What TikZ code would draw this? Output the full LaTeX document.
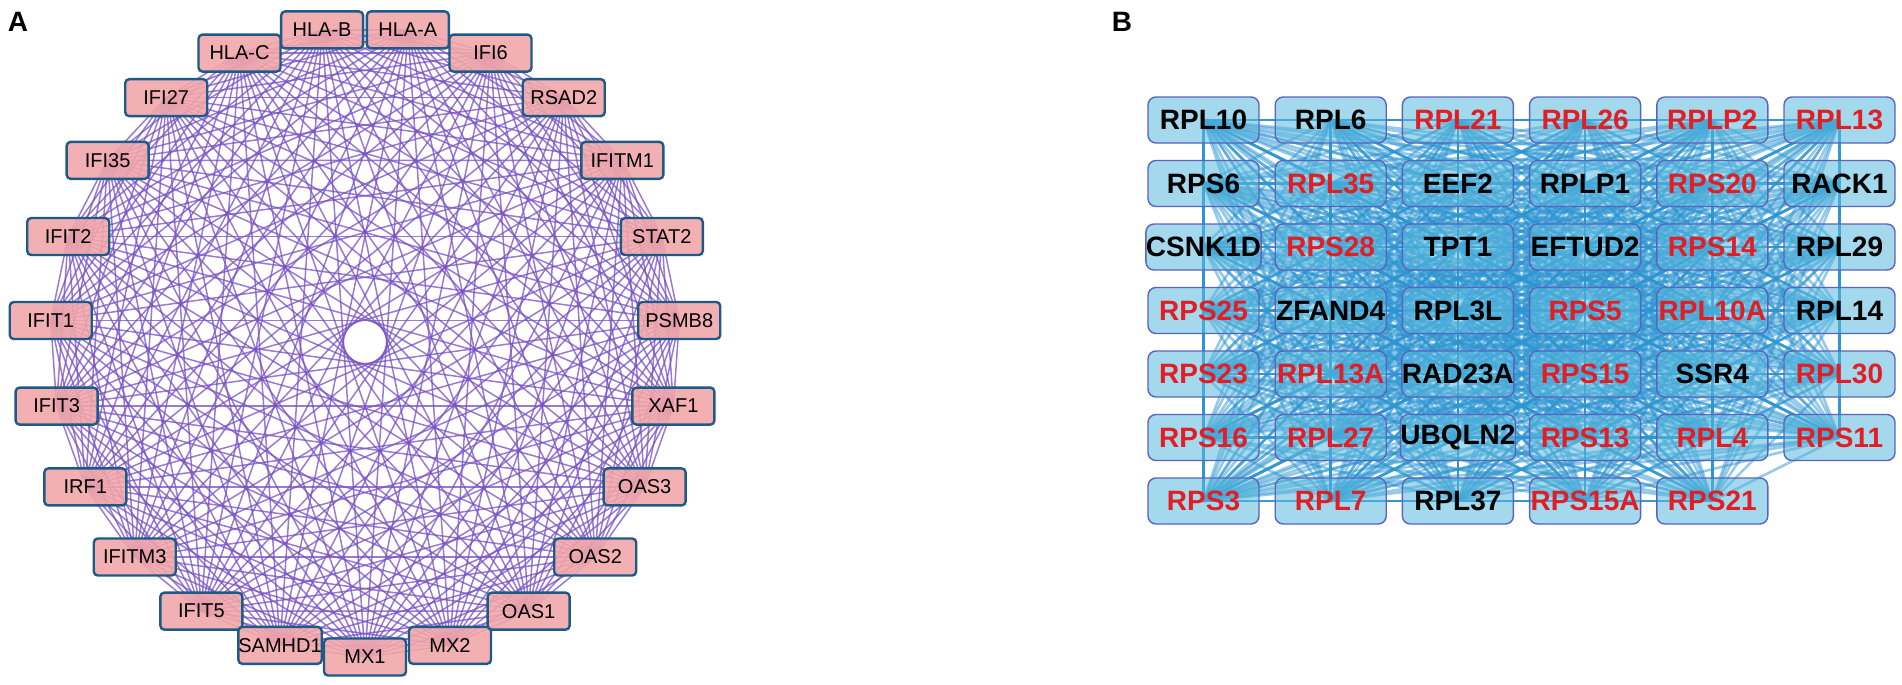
\documentclass[tikz,border=0pt]{standalone}
\usepackage{fontspec}
\setmainfont{Liberation Sans}
\pgfdeclarelayer{bg}
\pgfsetlayers{bg,main}
\definecolor{apink}{RGB}{242,166,168}
\definecolor{aborder}{RGB}{30,90,135}
\definecolor{aedgec}{RGB}{120,80,195}
\definecolor{bfill}{RGB}{90,185,222}
\definecolor{bborder}{RGB}{90,100,190}
\definecolor{bedgec}{RGB}{45,150,210}
\definecolor{bred}{RGB}{225,30,35}
\tikzset{
  anode/.style={draw=aborder, line width=1.2pt, fill=apink, fill opacity=0.88, text opacity=1,
    rounded corners=2pt, minimum width=41pt, minimum height=18.5pt, inner sep=0pt,
    font=\fontsize{10}{12}\selectfont},
  bnode/.style={draw=bborder, line width=0.7pt, fill=bfill, fill opacity=0.55, text opacity=1,
    rounded corners=4pt, minimum width=55.5pt, minimum height=23pt, inner sep=0pt,
    font=\bfseries\fontsize{14}{16}\selectfont},
  aedge/.style={draw=aedgec, line width=0.75pt, opacity=0.75},
  bedge/.style={draw=bedgec, line width=1.3pt, opacity=0.5},
  panellabel/.style={font=\bfseries\fontsize{14}{16}\selectfont, inner sep=0pt}
}
\begin{document}
\begin{tikzpicture}[x=0.5pt,y=-0.5pt]
\useasboundingbox (0,0) rectangle (1902,685);
\begin{pgfonlayer}{bg}
\fill[white] (0,0) rectangle (1902,685);
\end{pgfonlayer}
% Panel A
\node[panellabel] (labA) at (18,22) {A};
\foreach \name [count=\k from 0] in {MX1,MX2,OAS1,OAS2,OAS3,XAF1,PSMB8,STAT2,IFITM1,RSAD2,IFI6,HLA-A,HLA-B,HLA-C,IFI27,IFI35,IFIT2,IFIT1,IFIT3,IRF1,IFITM3,IFIT5,SAMHD1}{
  \pgfmathsetmacro\ang{270+\k*360/23}
  \node[anode] (a\k) at ({365+315*cos(\ang)},{342-315*sin(\ang)}) {\name};
}
\begin{pgfonlayer}{bg}
\foreach \i in {0,...,21}{
  \pgfmathtruncatemacro\s{\i+1}
  \foreach \j in {\s,...,22}{
    \draw[aedge] (a\i.center) -- (a\j.center);
  }
}
\end{pgfonlayer}
% Panel B
\node[panellabel] (labB) at (1122,22) {B};
\foreach \name/\col [count=\n from 0] in {
  RPL10/black, RPL6/black, RPL21/bred, RPL26/bred, RPLP2/bred, RPL13/bred,
  RPS6/black, RPL35/bred, EEF2/black, RPLP1/black, RPS20/bred, RACK1/black,
  CSNK1D/black, RPS28/bred, TPT1/black, EFTUD2/black, RPS14/bred, RPL29/black,
  RPS25/bred, ZFAND4/black, RPL3L/black, RPS5/bred, RPL10A/bred, RPL14/black,
  RPS23/bred, RPL13A/bred, RAD23A/black, RPS15/bred, SSR4/black, RPL30/bred,
  RPS16/bred, RPL27/bred, UBQLN2/black, RPS13/bred, RPL4/bred, RPS11/bred,
  RPS3/bred, RPL7/bred, RPL37/black, RPS15A/bred, RPS21/bred}{
  \pgfmathtruncatemacro\r{\n/6}
  \pgfmathtruncatemacro\c{\n-6*\r}
  \node[bnode, text=\col] (b\n) at ({1203.5+\c*127.2},{120+\r*63.5}) {\name};
}
\begin{pgfonlayer}{bg}
\foreach \i in {0,...,39}{
  \pgfmathtruncatemacro\s{\i+1}
  \foreach \j in {\s,...,40}{
    \draw[bedge] (b\i.center) -- (b\j.center);
  }
}
\end{pgfonlayer}
\end{tikzpicture}
\end{document}
